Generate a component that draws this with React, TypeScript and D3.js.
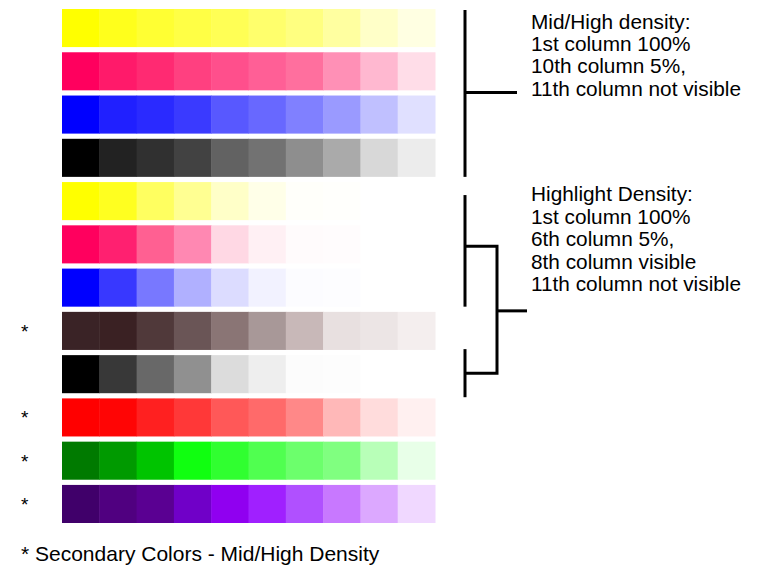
import React from "react";
import * as d3 from "d3";

const rowNames = [
  "Yellow MH", "Magenta MH", "Cyan MH", "Black MH",
  "Yellow HL", "Magenta HL", "Cyan HL", "Brown S",
  "Black HL", "Red S", "Green S", "Violet S",
];

const yellowMH = ["#ffff00", "#ffff1c", "#ffff33", "#ffff45", "#ffff55", "#ffff6c", "#ffff80", "#ffffa0", "#ffffc8", "#ffffe2"];
const magentaMH = ["#ff005e", "#ff1a6a", "#ff2a72", "#ff4080", "#ff4f8c", "#ff5f96", "#ff6f9e", "#ff90b6", "#ffb8d0", "#ffdde8"];
const cyanMH = ["#0000ff", "#2020ff", "#2a2aff", "#3a3aff", "#5858ff", "#6868ff", "#8080ff", "#9a9aff", "#c0c0ff", "#e0e0ff"];
const blackMH = ["#000000", "#222222", "#303030", "#424242", "#626262", "#727272", "#8e8e8e", "#aaaaaa", "#d8d8d8", "#ececec"];
const yellowHL = ["#ffff00", "#ffff20", "#ffff60", "#ffff92", "#ffffc8", "#ffffe8", "#fffffa", "#fffffc", "#ffffff", "#ffffff"];
const magentaHL = ["#ff005e", "#ff2070", "#ff6092", "#ff88b2", "#ffd8e4", "#fff0f4", "#fffbfc", "#fffcfd", "#ffffff", "#ffffff"];
const cyanHL = ["#0000ff", "#3838ff", "#7878ff", "#b0b0ff", "#dcdcff", "#f2f2ff", "#fcfcff", "#fdfdff", "#ffffff", "#ffffff"];
const brownS = ["#3a2326", "#3a2123", "#50393a", "#6a5556", "#8a7575", "#a89898", "#c8b8b8", "#e8e0e0", "#ece5e5", "#f4eeee"];
const blackHL = ["#000000", "#383838", "#686868", "#909090", "#dcdcdc", "#eeeeee", "#fcfcfc", "#fdfdfd", "#ffffff", "#ffffff"];
const redS = ["#ff0000", "#ff0505", "#ff2020", "#ff3838", "#ff5858", "#ff6a6a", "#ff8888", "#ffb8b8", "#ffdcdc", "#fff0f0"];
const greenS = ["#007a00", "#009a00", "#00c400", "#10ff10", "#30ff30", "#50ff50", "#6cff6c", "#80ff80", "#b8ffb8", "#e8ffe8"];
const violetS = ["#40006a", "#500080", "#5a0092", "#7000c8", "#9000f0", "#a020ff", "#b050ff", "#c878ff", "#dca8ff", "#f0d8ff"];

const rowColors = [yellowMH, magentaMH, cyanMH, blackMH, yellowHL, magentaHL, cyanHL, brownS, blackHL, redS, greenS, violetS];
const secondaryRows = ["Brown S", "Red S", "Green S", "Violet S"];
const columns = ["1", "2", "3", "4", "5", "6", "7", "8", "9", "10"];

const noteMid = ["Mid/High density:", "1st column 100%", "10th column 5%,", "11th column not visible"];
const noteHL = ["Highlight Density:", "1st column 100%", "6th column 5%,", "8th column visible", "11th column not visible"];
const footer = "* Secondary Colors - Mid/High Density";

const W = 759;
const H = 573;
const FONT = "'Liberation Sans', Arial, sans-serif";

export default function App() {
  const x = d3.scaleBand<string>().domain(columns).range([62, 435]).paddingInner(0);
  const y = d3.scaleBand<string>().domain(rowNames).range([9, 523]).paddingInner(0.12);
  const bw = y.bandwidth();
  const top = (n: string) => y(n) as number;
  const mid = (n: string) => top(n) + bw / 2;

  const bx = 465;
  const bx2 = 497;
  const lw = 3;

  const b1Top = top("Yellow MH") + 1;
  const b1Bot = top("Black MH") + bw;
  const b1Mid = (b1Top + b1Bot) / 2 - 1;

  const b2aTop = top("Yellow HL") + 13;
  const b2aBot = top("Cyan HL") + bw;
  const b2bTop = top("Black HL") - 6;
  const b2bBot = top("Black HL") + bw + 4;
  const y2a = mid("Magenta HL") + 2;
  const y2b = mid("Black HL") - 1;
  const y2m = top("Brown S") - 1;

  const line = d3.line();

  return (
    <svg width={W} height={H} style={{ position: "absolute", left: 0, top: 0, background: "#fff" }}>
      <rect width={W} height={H} fill="#ffffff" />
      {rowNames.map((r, i) => (
        <g key={r}>
          {columns.map((c, j) => (
            <rect
              key={c}
              x={x(c)}
              y={top(r)}
              width={x.bandwidth() + 0.5}
              height={bw}
              fill={rowColors[i][j]}
            />
          ))}
        </g>
      ))}
      {secondaryRows.map((r) => (
        <text key={r} x={21} y={top(r) + 26} fontFamily={FONT} fontSize={19} fill="#000">*</text>
      ))}
      <g stroke="#000" strokeWidth={lw} fill="none">
        <path d={line([[bx, b1Top], [bx, b1Bot]]) as string} />
        <path d={line([[bx, b1Mid], [517, b1Mid]]) as string} />
        <path d={line([[bx, b2aTop], [bx, b2aBot]]) as string} />
        <path d={line([[bx, b2bTop], [bx, b2bBot]]) as string} />
        <path d={line([[bx, y2a], [bx2, y2a], [bx2, y2b], [bx, y2b]]) as string} />
        <path d={line([[bx2, y2m], [527, y2m]]) as string} />
      </g>
      {noteMid.map((t, i) => (
        <text key={"m" + i} x={531} y={28.5 + i * 22.4} fontFamily={FONT} fontSize={20.8} fill="#000">{t}</text>
      ))}
      {noteHL.map((t, i) => (
        <text key={"h" + i} x={531} y={201 + i * 22.6} fontFamily={FONT} fontSize={20.8} fill="#000">{t}</text>
      ))}
      <text x={21} y={561} fontFamily={FONT} fontSize={21} fill="#000">{footer}</text>
    </svg>
  );
}
